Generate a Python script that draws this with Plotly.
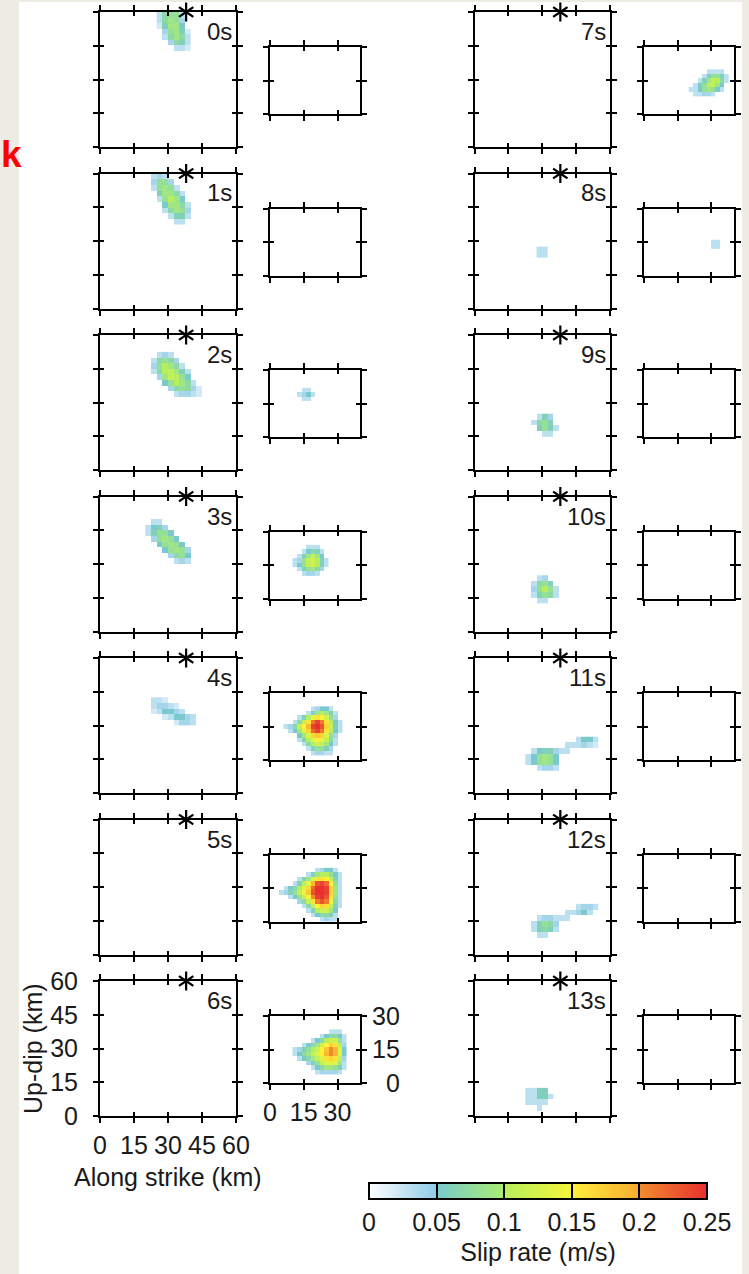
import plotly.graph_objects as go

# ---------------- data ----------------
time_labels = ["0s", "1s", "2s", "3s", "4s", "5s", "6s",
               "7s", "8s", "9s", "10s", "11s", "12s", "13s"]
hypo_x = [38]
hypo_y = [60]
big_ticks = [0, 15, 30, 45, 60]
small_x_ticks = [0, 15, 30]
small_y_ticks = [0, 15, 30]
small_y_ticktext = ["\u00a0\u00a00", "15", "30"]
big_range = [0, 60]
small_x_range = [0, 40]
small_y_range = [0, 30]
big_cell_km = 2.5
small_cell_km = 2.0
cb_ticks = [0, 0.05, 0.1, 0.15, 0.2, 0.25]
cb_labels = ["0", "0.05", "0.1", "0.15", "0.2", "0.25"]

# slip-rate snapshots in cm/s; rows listed from top (up-dip) to bottom
# origin = (along-strike km, up-dip km) of the lower-left cell corner
big_0s_origin = (25, 42.5)
big_0s_rate = [
    [3, 7, 8, 8, 3, 0],
    [3, 7, 9, 8, 4, 0],
    [2, 6, 9, 9, 5, 0],
    [0, 4, 8, 9, 6, 2],
    [0, 3, 7, 9, 7, 3],
    [0, 0, 4, 7, 6, 3],
    [0, 0, 0, 3, 3, 2],
]
big_1s_origin = (22.5, 37.5)
big_1s_rate = [
    [3, 4, 3, 0, 0, 0, 0],
    [4, 8, 8, 4, 0, 0, 0],
    [3, 8, 9, 8, 3, 0, 0],
    [0, 6, 9, 9, 7, 3, 0],
    [0, 3, 8, 10, 9, 5, 0],
    [0, 0, 5, 9, 9, 7, 3],
    [0, 0, 3, 7, 9, 8, 4],
    [0, 0, 0, 3, 6, 6, 3],
    [0, 0, 0, 0, 3, 3, 0],
]
big_2s_origin = (22.5, 32.5)
big_2s_rate = [
    [0, 3, 4, 3, 0, 0, 0, 0, 0],
    [3, 7, 8, 7, 4, 0, 0, 0, 0],
    [4, 8, 10, 9, 7, 3, 0, 0, 0],
    [3, 7, 10, 11, 9, 6, 3, 0, 0],
    [0, 4, 9, 11, 10, 8, 5, 0, 0],
    [0, 0, 5, 8, 10, 9, 7, 3, 0],
    [0, 0, 0, 4, 7, 8, 7, 4, 2],
    [0, 0, 0, 0, 3, 4, 4, 3, 2],
]
big_3s_origin = (20, 30)
big_3s_rate = [
    [0, 3, 3, 0, 0, 0, 0, 0, 0],
    [3, 5, 6, 4, 0, 0, 0, 0, 0],
    [3, 6, 8, 8, 5, 0, 0, 0, 0],
    [0, 4, 8, 9, 8, 5, 0, 0, 0],
    [0, 0, 5, 8, 9, 8, 5, 0, 0],
    [0, 0, 0, 5, 8, 9, 8, 4, 0],
    [0, 0, 0, 0, 4, 7, 8, 5, 0],
    [0, 0, 0, 0, 0, 3, 4, 3, 0],
]
big_4s_origin = (22.5, 30)
big_4s_rate = [
    [3, 3, 2, 0, 0, 0, 0, 0],
    [3, 4, 4, 3, 2, 0, 0, 0],
    [2, 3, 5, 5, 4, 3, 0, 0],
    [0, 0, 2, 3, 5, 5, 4, 3],
    [0, 0, 0, 0, 2, 4, 4, 3],
]
big_8s_origin = (27.5, 22.5)
big_8s_rate = [
    [3, 3],
    [3, 3],
]
big_9s_origin = (25, 15)
big_9s_rate = [
    [0, 3, 6, 4, 0],
    [3, 7, 8, 6, 0],
    [0, 6, 8, 6, 3],
    [0, 0, 3, 3, 0],
]
big_10s_origin = (25, 12.5)
big_10s_rate = [
    [0, 3, 4, 0, 0],
    [3, 7, 8, 6, 0],
    [4, 8, 10, 8, 3],
    [3, 6, 8, 7, 3],
    [0, 3, 3, 0, 0],
]
big_11s_origin = (22.5, 10)
big_11s_rate = [
    [0, 0, 0, 0, 0, 0, 0, 0, 0, 3, 5, 5, 3],
    [0, 0, 0, 0, 0, 0, 0, 3, 3, 3, 4, 3, 2],
    [0, 3, 5, 6, 6, 4, 3, 3, 0, 0, 0, 0, 0],
    [3, 5, 8, 9, 8, 5, 0, 0, 0, 0, 0, 0, 0],
    [3, 5, 8, 9, 8, 5, 0, 0, 0, 0, 0, 0, 0],
    [0, 0, 3, 4, 4, 3, 0, 0, 0, 0, 0, 0, 0],
]
big_12s_origin = (22.5, 7.5)
big_12s_rate = [
    [0, 0, 0, 0, 0, 0, 0, 0, 0, 3, 4, 4, 3],
    [0, 0, 0, 0, 0, 0, 0, 3, 3, 4, 5, 3, 0],
    [0, 0, 3, 4, 4, 3, 3, 3, 0, 0, 0, 0, 0],
    [0, 3, 6, 8, 7, 4, 0, 0, 0, 0, 0, 0, 0],
    [0, 3, 6, 7, 6, 3, 0, 0, 0, 0, 0, 0, 0],
    [0, 0, 3, 3, 0, 0, 0, 0, 0, 0, 0, 0, 0],
]
big_13s_origin = (22.5, 2.5)
big_13s_rate = [
    [3, 3, 6, 6, 0],
    [3, 3, 6, 6, 3],
    [3, 3, 3, 3, 0],
    [0, 0, 3, 0, 0],
]

small_2s_origin = (12, 16)
small_2s_rate = [
    [0, 3, 3, 0],
    [3, 4, 5, 3],
    [0, 3, 3, 0],
]
small_3s_origin = (10, 10)
small_3s_rate = [
    [0, 0, 0, 3, 3, 3, 0, 0],
    [0, 0, 3, 5, 7, 6, 3, 0],
    [0, 3, 6, 9, 11, 9, 5, 0],
    [3, 4, 8, 11, 12, 10, 6, 3],
    [3, 5, 8, 11, 12, 10, 6, 3],
    [0, 3, 6, 8, 9, 7, 4, 0],
    [0, 0, 3, 4, 4, 3, 0, 0],
]
small_4s_origin = (6, 2)
small_4s_rate = [
    [0, 0, 0, 0, 0, 0, 3, 4, 5, 5, 3, 0, 0],
    [0, 0, 0, 0, 0, 3, 6, 9, 10, 9, 6, 3, 0],
    [0, 0, 0, 3, 6, 10, 14, 16, 15, 12, 8, 4, 0],
    [0, 0, 3, 7, 11, 16, 21, 24, 21, 16, 10, 5, 3],
    [3, 4, 7, 11, 15, 19, 24, 25, 23, 17, 11, 6, 3],
    [0, 3, 5, 9, 13, 17, 22, 24, 21, 16, 10, 5, 3],
    [0, 0, 0, 5, 9, 13, 17, 18, 17, 13, 8, 4, 0],
    [0, 0, 0, 3, 6, 10, 13, 15, 14, 11, 7, 3, 0],
    [0, 0, 0, 0, 3, 7, 10, 12, 11, 9, 5, 3, 0],
    [0, 0, 0, 0, 0, 3, 6, 8, 8, 6, 4, 0, 0],
    [0, 0, 0, 0, 0, 0, 3, 4, 4, 3, 3, 0, 0],
]
small_5s_origin = (4, 0)
small_5s_rate = [
    [0, 0, 0, 0, 0, 0, 0, 0, 3, 4, 5, 5, 3, 0],
    [0, 0, 0, 0, 0, 0, 3, 6, 9, 10, 10, 8, 5, 3],
    [0, 0, 0, 0, 3, 6, 9, 13, 16, 16, 15, 11, 6, 3],
    [0, 0, 0, 3, 6, 10, 14, 19, 23, 24, 22, 15, 8, 3],
    [0, 3, 5, 7, 10, 13, 17, 22, 25, 25, 24, 17, 9, 3],
    [3, 4, 6, 8, 11, 14, 18, 23, 25, 25, 24, 17, 9, 3],
    [0, 0, 3, 5, 8, 11, 15, 20, 24, 25, 23, 16, 8, 3],
    [0, 0, 0, 0, 4, 7, 11, 16, 21, 23, 21, 14, 7, 3],
    [0, 0, 0, 0, 0, 3, 7, 11, 15, 17, 16, 11, 6, 3],
    [0, 0, 0, 0, 0, 0, 3, 6, 10, 12, 12, 9, 5, 0],
    [0, 0, 0, 0, 0, 0, 0, 3, 5, 7, 7, 6, 3, 0],
    [0, 0, 0, 0, 0, 0, 0, 0, 0, 3, 4, 3, 3, 0],
]
small_6s_origin = (10, 4)
small_6s_rate = [
    [0, 0, 0, 0, 0, 0, 0, 0, 3, 3, 3, 0],
    [0, 0, 0, 0, 0, 0, 3, 5, 7, 7, 5, 3],
    [0, 0, 0, 0, 3, 5, 7, 10, 12, 12, 8, 3],
    [0, 0, 3, 5, 7, 9, 12, 15, 17, 16, 11, 4],
    [3, 4, 6, 8, 10, 12, 15, 18, 20, 19, 13, 5],
    [3, 5, 7, 9, 11, 13, 15, 19, 20, 19, 13, 5],
    [0, 3, 5, 7, 9, 11, 13, 16, 17, 16, 11, 4],
    [0, 0, 0, 4, 6, 8, 11, 13, 14, 13, 9, 3],
    [0, 0, 0, 0, 3, 5, 7, 9, 9, 8, 6, 3],
    [0, 0, 0, 0, 0, 3, 4, 4, 4, 4, 3, 0],
]
small_7s_origin = (20, 8)
small_7s_rate = [
    [0, 0, 0, 0, 3, 3, 3, 3, 0],
    [0, 0, 0, 3, 6, 8, 8, 6, 3],
    [0, 0, 3, 6, 9, 11, 10, 7, 3],
    [0, 3, 5, 8, 11, 11, 9, 5, 0],
    [3, 3, 5, 8, 9, 8, 5, 3, 0],
    [0, 3, 3, 4, 4, 3, 0, 0, 0],
]
small_8s_origin = (30, 12)
small_8s_rate = [
    [3, 3],
    [3, 3],
]

big_snapshots = {
    0: (big_0s_origin, big_0s_rate), 1: (big_1s_origin, big_1s_rate),
    2: (big_2s_origin, big_2s_rate), 3: (big_3s_origin, big_3s_rate),
    4: (big_4s_origin, big_4s_rate), 8: (big_8s_origin, big_8s_rate),
    9: (big_9s_origin, big_9s_rate), 10: (big_10s_origin, big_10s_rate),
    11: (big_11s_origin, big_11s_rate), 12: (big_12s_origin, big_12s_rate),
    13: (big_13s_origin, big_13s_rate),
}
small_snapshots = {
    2: (small_2s_origin, small_2s_rate), 3: (small_3s_origin, small_3s_rate),
    4: (small_4s_origin, small_4s_rate), 5: (small_5s_origin, small_5s_rate),
    6: (small_6s_origin, small_6s_rate), 7: (small_7s_origin, small_7s_rate),
    8: (small_8s_origin, small_8s_rate),
}

# ---------------- layout geometry (pixels) ----------------
W, H = 749, 1274
BIG_X = [(100, 236), (474.5, 610)]
SMALL_X = [(270, 360), (644, 733.5)]
BIG_TOP0, BIG_H = 12, 135
SMALL_TOP0, SMALL_H = 47, 67
ROW_STEP = 161.5
FONT = "Liberation Sans, Arial, sans-serif"
TXT = "#1a1a1a"

colorscale = [
    [0.0, "#ffffff"], [0.2, "#8ecbe6"],
    [0.2, "#7ac9cc"], [0.4, "#a9ee72"],
    [0.4, "#b6ef5e"], [0.6, "#f5f53a"],
    [0.6, "#fff03c"], [0.8, "#f7aa30"],
    [0.8, "#f08c2e"], [1.0, "#e8302e"],
]

fig = go.Figure()
axes = {}
counter = [0]


def add_pair(xpx, ypx, xr, yr, xt, yt, ticks, ticklen,
             xlab=False, ylab=False, yside="left", yticktext=None):
    counter[0] += 1
    k = counter[0]
    s = "" if k == 1 else str(k)
    common = dict(showline=True, linecolor="black", linewidth=2, mirror="ticks",
                  ticks=ticks, ticklen=ticklen, tickwidth=2, tickcolor="black",
                  showgrid=False, zeroline=False, fixedrange=True,
                  tickfont=dict(size=25, color=TXT, family=FONT))
    axes["xaxis" + s] = dict(domain=[xpx[0] / W, xpx[1] / W], range=xr,
                             tickmode="array", tickvals=xt, anchor="y" + s,
                             showticklabels=xlab, ticklabelstandoff=1, **common)
    yd = dict(domain=[1 - ypx[1] / H, 1 - ypx[0] / H], range=yr,
              tickmode="array", tickvals=yt, anchor="x" + s,
              showticklabels=ylab, side=yside, **common)
    if yticktext is not None:
        yd["ticktext"] = yticktext
    yd["ticklabelstandoff"] = 10 if yside == "left" else 0
    axes["yaxis" + s] = yd
    xa, ya = "x" + s, "y" + s
    # empty trace so that the subplot is always drawn
    fig.add_trace(go.Scatter(x=[], y=[], mode="markers", hoverinfo="skip",
                             xaxis=xa, yaxis=ya))
    return xa, ya


def add_heat(snap, cell, xa, ya):
    (ox, oy), rows = snap
    z = [[(v / 100 if v else None) for v in row] for row in rows[::-1]]
    fig.add_trace(go.Heatmap(z=z, x0=ox + cell / 2, dx=cell, y0=oy + cell / 2, dy=cell,
                             coloraxis="coloraxis", zsmooth=False, hoverinfo="skip",
                             xaxis=xa, yaxis=ya))


annotations = []
for t in range(14):
    col, row = divmod(t, 7)
    last = (row == 6 and col == 0)
    btop = BIG_TOP0 + ROW_STEP * row
    stop = SMALL_TOP0 + ROW_STEP * row
    bx = BIG_X[col]
    sx = SMALL_X[col]
    # big panel (fault 1)
    xa, ya = add_pair(bx, (btop, btop + BIG_H), big_range, big_range, big_ticks, big_ticks,
                      "outside", 5, xlab=last, ylab=last)
    if t in big_snapshots:
        add_heat(big_snapshots[t], big_cell_km, xa, ya)
    for sym in ("y-up-open", "y-down-open"):
        fig.add_trace(go.Scatter(x=hypo_x, y=hypo_y, mode="markers", cliponaxis=False,
                                 marker=dict(symbol=sym, size=12, color="black",
                                             line=dict(width=2.2, color="black")),
                                 hoverinfo="skip", xaxis=xa, yaxis=ya))
    annotations.append(dict(text=time_labels[t], xref=xa + " domain", yref=ya + " domain",
                            x=1, y=1, xanchor="right", yanchor="top", xshift=-2, yshift=-4,
                            showarrow=False, font=dict(size=24, color=TXT, family=FONT)))
    add_pair(bx, (btop, btop + BIG_H), big_range, big_range, big_ticks, big_ticks, "inside", 4)
    # small panel (fault 2)
    xa2, ya2 = add_pair(sx, (stop, stop + SMALL_H), small_x_range, small_y_range,
                        small_x_ticks, small_y_ticks, "outside", 5,
                        xlab=last, ylab=last, yside="right", yticktext=small_y_ticktext)
    if t in small_snapshots:
        add_heat(small_snapshots[t], small_cell_km, xa2, ya2)
    add_pair(sx, (stop, stop + SMALL_H), small_x_range, small_y_range,
             small_x_ticks, small_y_ticks, "inside", 4)

annotations += [
    dict(text="Up-dip (km)", xref="paper", yref="paper", x=32.5 / W, y=1 - 1048.5 / H,
         xanchor="center", yanchor="middle",
         textangle=-90, showarrow=False, font=dict(size=25, color=TXT, family=FONT)),
    dict(text="Along strike (km)", xref="paper", yref="paper", x=168 / W, y=1 - 1177 / H,
         xanchor="center", yanchor="middle",
         showarrow=False, font=dict(size=25, color=TXT, family=FONT)),
    dict(text="k", xref="paper", yref="paper", x=0, y=1 - 155 / H,
         xanchor="left", yanchor="middle", showarrow=False, borderpad=0,
         font=dict(size=37, color="#ff0000", family=FONT, weight="bold")),
]

fig.update_layout(
    width=W, height=H, margin=dict(l=0, r=0, t=0, b=0, autoexpand=False),
    paper_bgcolor="#eeebe3", plot_bgcolor="rgba(0,0,0,0)", showlegend=False,
    font=dict(family=FONT, color=TXT),
    shapes=[dict(type="rect", xref="paper", yref="paper", x0=19 / W, x1=742 / W,
                 y0=0, y1=1 - 2 / H, fillcolor="white", line=dict(width=0), layer="below")],
    annotations=annotations,
    coloraxis=dict(
        cmin=0, cmax=0.25, colorscale=colorscale, showscale=True,
        colorbar=dict(orientation="h", thickness=16, thicknessmode="pixels",
                      len=338, lenmode="pixels", x=538 / W, xanchor="center",
                      y=1 - 1183 / H, yanchor="top", xpad=0, ypad=0,
                      outlinewidth=2, outlinecolor="black",
                      tickmode="array", tickvals=cb_ticks, ticktext=cb_labels,
                      ticks="inside", ticklen=16, tickwidth=2, tickcolor="black",
                      tickfont=dict(size=25, color=TXT, family=FONT),
                      title=dict(text="Slip rate (m/s)", side="bottom",
                                 font=dict(size=25, color=TXT, family=FONT))),
    ),
    **axes,
)

fig.write_html("out.html")
